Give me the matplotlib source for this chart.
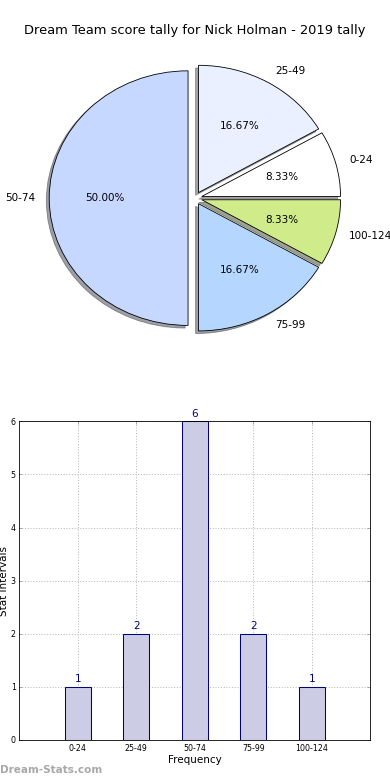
import numpy as np
import matplotlib
matplotlib.use('Agg')
import matplotlib.pyplot as plt

title = 'Dream Team score tally for Nick Holman - 2019 tally'

# pie, drawn counter-clockwise from the top
pie_labels = ['50-74', '75-99', '100-124', '0-24', '25-49']
pie_counts = [6, 2, 1, 1, 2]
pie_colors = ['#c6d8ff', '#b5d6ff', '#d0eb8a', '#ffffff', '#eaf0ff']

# bar chart
categories = ['0-24', '25-49', '50-74', '75-99', '100-124']
counts = [1, 2, 6, 2, 1]

fig = plt.figure(figsize=(5.2, 10.4), dpi=75)
fig.text(0.5, 0.9615, title, ha='center', va='center', fontsize=12.5)

ax1 = fig.add_axes([0.055, 0.542, 0.89, 0.408])
wedges, texts, autotexts = ax1.pie(pie_counts, labels=pie_labels, colors=pie_colors,
                                   explode=[0.05] * len(pie_counts), shadow=True,
                                   startangle=90, autopct='%1.2f%%',
                                   wedgeprops={'edgecolor': 'black', 'linewidth': 0.8},
                                   textprops={'fontsize': 10})
ax1.set_aspect('auto')
ax1.set_xlim(-1.25, 1.25)
ax1.set_ylim(-1.25, 1.25)

ax2 = fig.add_axes([0.0495, 0.0513, 0.9, 0.4086])
x = np.arange(1, len(categories) + 1)
bars = ax2.bar(x, counts, width=0.45, color='#ccccE4', edgecolor='#000080', linewidth=1, zorder=2)
for xi, c in zip(x, counts):
    ax2.text(xi, c + 0.05, str(c), ha='center', va='bottom', color='#000080', fontsize=10)
ax2.set_xlim(0, 6)
ax2.set_ylim(0, 6)
ax2.set_xticks(x)
ax2.set_xticklabels(categories)
ax2.set_yticks(range(0, 7))
ax2.tick_params(labelsize=7.5, direction='in', top=True, right=True, color='#999999', length=3)
ax2.grid(True, linestyle=':', color='#bbbbbb', linewidth=1, zorder=0)
ax2.set_axisbelow(True)
ax2.set_xlabel('Frequency', fontsize=10, labelpad=2)
ax2.set_ylabel('Stat Intervals', fontsize=10, labelpad=2)

fig.text(0.0, 0.013, 'Dream-Stats.com', ha='left', va='center', fontsize=10,
         fontweight='bold', color='#a8a8a8')

fig.savefig('out.png', dpi=75)
